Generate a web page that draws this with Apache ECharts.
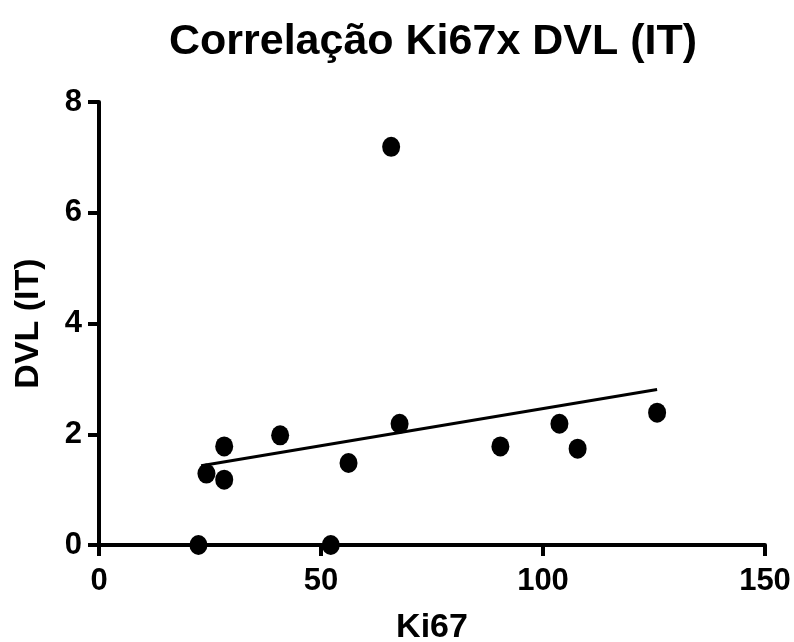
<!DOCTYPE html>
<html><head><meta charset="utf-8">
<script src="https://cdn.jsdelivr.net/npm/echarts@6/dist/echarts.min.js"></script>
<style>html,body{margin:0;padding:0;background:#fff}#c{width:794px;height:642px}</style>
</head><body><div id="c"></div>
<script>
const titleText = 'Correlação Ki67x DVL (IT)';
const xName = 'Ki67';
const yName = 'DVL (IT)';
const ki67 = [22.4, 24.2, 28.2, 28.2, 40.8, 52.2, 56.2, 65.8, 67.7, 90.4, 103.7, 107.8, 125.7];
const dvl  = [0, 1.29, 1.78, 1.18, 1.98, 0, 1.48, 7.19, 2.19, 1.78, 2.19, 1.74, 2.39];
const fitX = [23.0, 125.7];
const fitY = [1.43, 2.81];
const xTicks = [0, 50, 100, 150];
const yTicks = [0, 2, 4, 6, 8];

const chart = echarts.init(document.getElementById('c'), null, {renderer: 'canvas'});
const font = 'Liberation Sans, Arial, sans-serif';
const axisCommon = {
  axisLine: {show: true, onZero: false, lineStyle: {color: '#000', width: 4}},
  axisTick: {show: true, inside: false, length: 11, lineStyle: {color: '#000', width: 4}},
  splitLine: {show: false},
  nameTextStyle: {color: '#000', fontWeight: 'bold', fontSize: 34, fontFamily: font},
  axisLabel: {color: '#000', fontWeight: 'bold', fontSize: 31, fontFamily: font}
};
chart.setOption({
  animation: false,
  title: {text: titleText, left: 428, textAlign: 'center', top: 16,
    textStyle: {color: '#000', fontWeight: 'bold', fontSize: 43, fontFamily: font}},
  grid: {left: 99, right: 29, top: 102, bottom: 97, containLabel: false, outerBoundsMode: 'none'},
  xAxis: Object.assign({}, axisCommon, {
    type: 'value', min: xTicks[0], max: xTicks[xTicks.length-1], interval: 50,
    name: xName, nameLocation: 'middle', nameGap: 66,
    axisLabel: Object.assign({}, axisCommon.axisLabel, {margin: 21})
  }),
  yAxis: Object.assign({}, axisCommon, {
    type: 'value', min: yTicks[0], max: yTicks[yTicks.length-1], interval: 2,
    name: yName, nameLocation: 'middle', nameGap: 53, nameRotate: 90,
    axisLabel: Object.assign({}, axisCommon.axisLabel, {margin: 17})
  }),
  series: [
    {type: 'line', data: fitX.map((x, i) => [x, fitY[i]]), symbol: 'none',
      lineStyle: {color: '#000', width: 3}, z: 2},
    {type: 'scatter', data: ki67.map((x, i) => [x, dvl[i]]), symbol: 'circle',
      symbolSize: [18, 20], itemStyle: {color: '#000', opacity: 1}, z: 3, clip: false}
  ]
});
</script></body></html>
